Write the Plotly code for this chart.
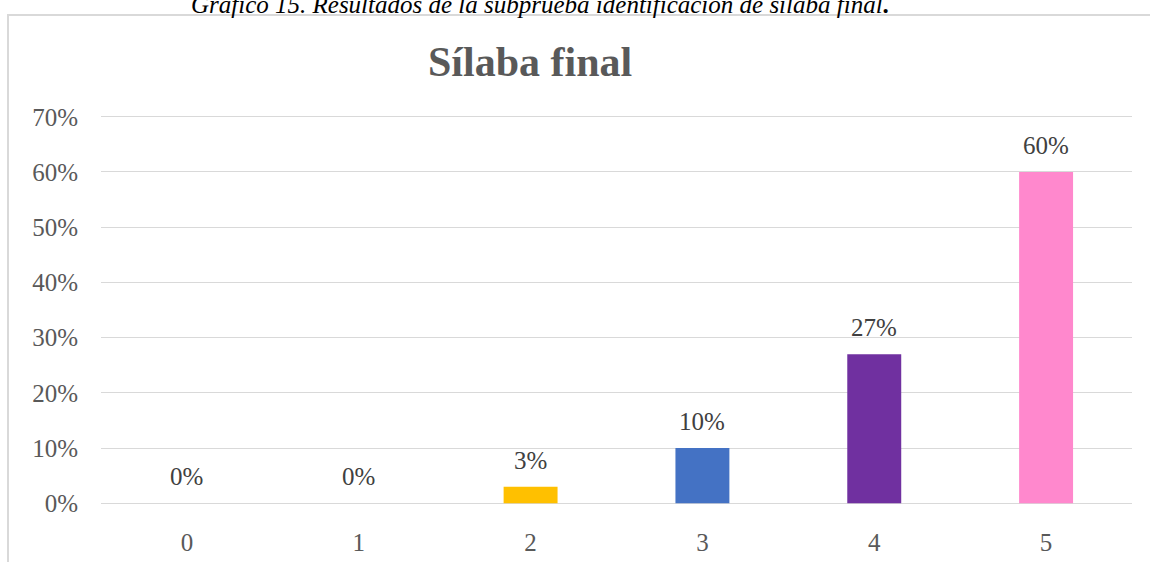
import plotly.graph_objects as go

# Datos del gráfico
categorias = ["0", "1", "2", "3", "4", "5"]
porcentajes = [0, 0, 3, 10, 27, 60]
etiquetas = ["0%", "0%", "3%", "10%", "27%", "60%"]
colores = ["#5B9BD5", "#ED7D31", "#FFC000", "#4472C4", "#7030A0", "#FF88CD"]
ticks_y = [0, 10, 20, 30, 40, 50, 60, 70]
ticks_y_texto = ["0%", "10%", "20%", "30%", "40%", "50%", "60%", "70%"]

W, H = 1150, 562
ML, MR, MT, MB = 101, 18, 114, 56
PW, PH = W - ML - MR, H - MT - MB


def px_x(p):
    return (p - ML) / PW


def px_y(p):
    return (H - MB - p) / PH


fuente = "Liberation Serif, Times New Roman, serif"

fig = go.Figure(go.Bar(
    x=categorias,
    y=porcentajes,
    marker=dict(color=colores, line=dict(width=0)),
    width=0.314,
    hoverinfo="x+y",
))

# etiquetas de datos encima de cada barra
anotaciones = [
    dict(
        x=c, y=v, text=t, xref="x", yref="y",
        xanchor="center", yanchor="bottom", yshift=11,
        showarrow=False, font=dict(family=fuente, size=25, color="#404040"),
    )
    for c, v, t in zip(categorias, porcentajes, etiquetas)
]

anotaciones += [
    dict(
        text="<b>Sílaba final</b>", xref="paper", yref="paper",
        x=px_x(530), y=px_y(62), xanchor="center", yanchor="middle",
        showarrow=False, font=dict(family=fuente, size=42, color="#595959"),
    ),
    dict(
        text="<i>Gráfico 15. Resultados de la subprueba identificación de sílaba final</i><b>.</b>",
        xref="paper", yref="paper",
        x=px_x(540), y=px_y(5), xanchor="center", yanchor="middle",
        showarrow=False, font=dict(family=fuente, size=25, color="#000000"),
    ),
]

fig.update_layout(
    width=W, height=H,
    margin=dict(l=ML, r=MR, t=MT, b=MB, autoexpand=False),
    paper_bgcolor="white",
    plot_bgcolor="white",
    showlegend=False,
    font=dict(family=fuente, color="#595959"),
    xaxis=dict(
        showgrid=False, showline=False, zeroline=False,
        tickfont=dict(size=25, color="#595959"),
        ticks="", ticklabelstandoff=19, automargin=False,
    ),
    yaxis=dict(
        range=[-0.5, 70.5],
        tickvals=ticks_y, ticktext=ticks_y_texto,
        showgrid=True, gridcolor="#D9D9D9", gridwidth=1.3,
        zeroline=False, showline=False,
        tickfont=dict(size=25, color="#595959"),
        ticks="", ticklabelstandoff=22, automargin=False,
    ),
    shapes=[dict(
        type="rect", xref="paper", yref="paper",
        x0=px_x(8), x1=px_x(1170), y0=px_y(590), y1=px_y(15),
        line=dict(color="#D9D9D9", width=2), layer="below",
    )],
    annotations=anotaciones,
)

# sin el margen por defecto del body, para que la figura empiece en (0, 0)
fig.write_html(
    "out.html",
    config={"displayModeBar": False},
    post_script="document.body.style.margin='0';",
)
